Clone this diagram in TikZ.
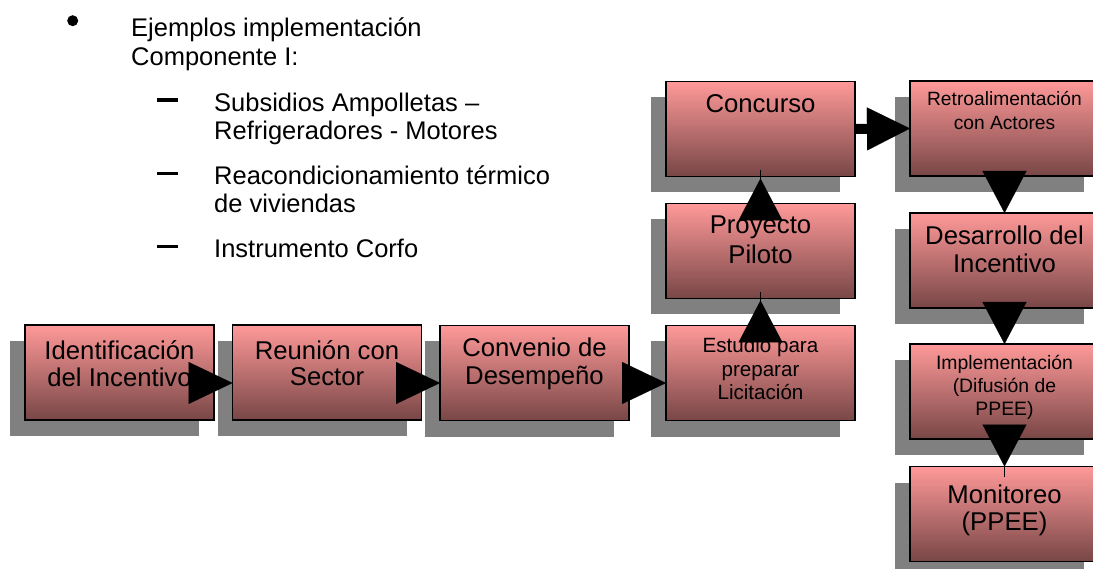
\documentclass[tikz,border=0pt]{standalone}
\usepackage{fontspec}
\setmainfont{Liberation Sans}
\usetikzlibrary{arrows.meta,calc,shadows}
\definecolor{boxtop}{HTML}{FF9999}
\definecolor{boxbot}{HTML}{784646}
\definecolor{shadowgray}{HTML}{808080}
\begin{document}
\begin{tikzpicture}[x=1pt,y=-1pt,
  box/.style={draw=black,line width=1.3pt,top color=boxtop,bottom color=boxbot,
    minimum width=189pt,minimum height=95pt,inner sep=0pt,outer sep=0pt,
    drop shadow={shadow xshift=-15pt,shadow yshift=-16pt,fill=shadowgray,opacity=1}},
  lbl/.style={anchor=base,inner sep=0pt,text=black},
  big/.style={font=\fontsize{25.7pt}{#1}\selectfont},
  small/.style 2 args={font=\fontsize{#1}{#2}\selectfont},
  listtxt/.style={anchor=base west,inner sep=0pt,text=black,font=\fontsize{25.5pt}{#1}\selectfont},
  harrow/.style={line width=1pt,-{Triangle[length=44pt,width=42pt,line width=0.1pt]}},
  varrow/.style={line width=1.3pt,-{Triangle[length=42pt,width=44pt,line width=0.1pt]}},
  thickarrow/.style={line width=10pt,-{Triangle[length=43pt,width=43pt,line width=0.1pt]}},
  conn/.style={line width=1.3pt},
  dashmark/.style={line width=3.5pt}
]
\fill[white] (0,0) rectangle (1093,569);
\useasboundingbox (0,0) rectangle (1093,569);

% left list
\fill (72.7,20.7) circle (5.5pt);
\node[listtxt=29pt] (head) at (131,37) {\begin{tabular}[t]{@{}l@{}}Ejemplos implementación\\Componente I:\end{tabular}};
\draw[dashmark] (157,100) -- (178,100);
\node[listtxt=28pt] (it1) at (214,112) {\begin{tabular}[t]{@{}l@{}}Subsidios Ampolletas –\\Refrigeradores - Motores\end{tabular}};
\draw[dashmark] (157,173.3) -- (178,173.3);
\node[listtxt=28pt] (it2) at (214,185) {\begin{tabular}[t]{@{}l@{}}Reacondicionamiento térmico\\de viviendas\end{tabular}};
\draw[dashmark] (157,246.7) -- (178,246.7);
\node[listtxt=28pt] (it3) at (214,258) {Instrumento Corfo};

% boxes
\node[box] (b1) at (119.5,372.5) {};
\node[box] (b2) at (327,372.5) {};
\node[box] (b3) at (534.5,373) {};
\node[box] (b4) at (760.5,373) {};
\node[box] (b5) at (760.5,251) {};
\node[box] (b6) at (760.5,129) {};
\node[box] (b7) at (1004.5,128.5) {};
\node[box] (b8) at (1004.5,260.5) {};
\node[box] (b9) at (1004.5,391.5) {};
\node[box] (b10) at (1004.5,514) {};

% box texts
\node[lbl,big=26pt] (t1) at ($(b1.north)+(0,35)$) {\begin{tabular}[t]{@{}c@{}}Identificación\\del Incentivo\end{tabular}};
\node[lbl,big=26pt] (t2) at ($(b2.north)+(0,35)$) {\begin{tabular}[t]{@{}c@{}}Reunión con\\Sector\end{tabular}};
\node[lbl,big=28pt] (t3) at ($(b3.north)+(0,31.5)$) {\begin{tabular}[t]{@{}c@{}}Convenio de\\Desempeño\end{tabular}};
\node[lbl,small={20.6pt}{23.5pt}] (t4) at ($(b4.north)+(0,27.5)$) {\begin{tabular}[t]{@{}c@{}}Estudio para\\preparar\\Licitación\end{tabular}};
\node[lbl,big=30pt] (t5) at ($(b5.north)+(0,30.5)$) {\begin{tabular}[t]{@{}c@{}}Proyecto\\Piloto\end{tabular}};
\node[lbl,big=28pt] (t6) at ($(b6.north)+(0,31)$) {Concurso};
\node[lbl,small={19.2pt}{23.3pt}] (t7) at ($(b7.north)+(0,25)$) {\begin{tabular}[t]{@{}c@{}}Retroalimentación\\con Actores\end{tabular}};
\node[lbl,big=28pt] (t8) at ($(b8.north)+(0,32)$) {\begin{tabular}[t]{@{}c@{}}Desarrollo del\\Incentivo\end{tabular}};
\node[lbl,small={19.4pt}{22.7pt}] (t9) at ($(b9.north)+(0,26)$) {\begin{tabular}[t]{@{}c@{}}Implementación\\(Difusión de\\PPEE)\end{tabular}};
\node[lbl,big=27pt] (t10) at ($(b10.north)+(0,36.5)$) {\begin{tabular}[t]{@{}c@{}}Monitoreo\\(PPEE)\end{tabular}};

% connectors
\draw[harrow] ($(b1.east)+(0,10.5)$) -- ($(b2.west)+(0,10.5)$);
\draw[harrow] ($(b2.east)+(0,10.5)$) -- ($(b3.west)+(0,10)$);
\draw[harrow] ($(b3.east)+(0,10)$) -- ($(b4.west)+(0,10)$);
\draw[conn] (b4.north) -- ($(b5.south)+(0,-6)$);
\draw[varrow] (b4.north) -- ($(b5.south)+(0,2)$);
\draw[conn] (b5.north) -- ($(b6.south)+(0,-6)$);
\draw[varrow] (b5.north) -- ($(b6.south)+(0,2)$);
\draw[thickarrow] (b6.east) -- (b7.west);
\draw[varrow] (b7.south) -- (b8.north);
\draw[varrow] (b8.south) -- (b9.north);
\draw[conn] (b9.south) -- ($(b10.north)+(0,10)$);
\draw[varrow] (b9.south) -- (b10.north);
\end{tikzpicture}
\end{document}
